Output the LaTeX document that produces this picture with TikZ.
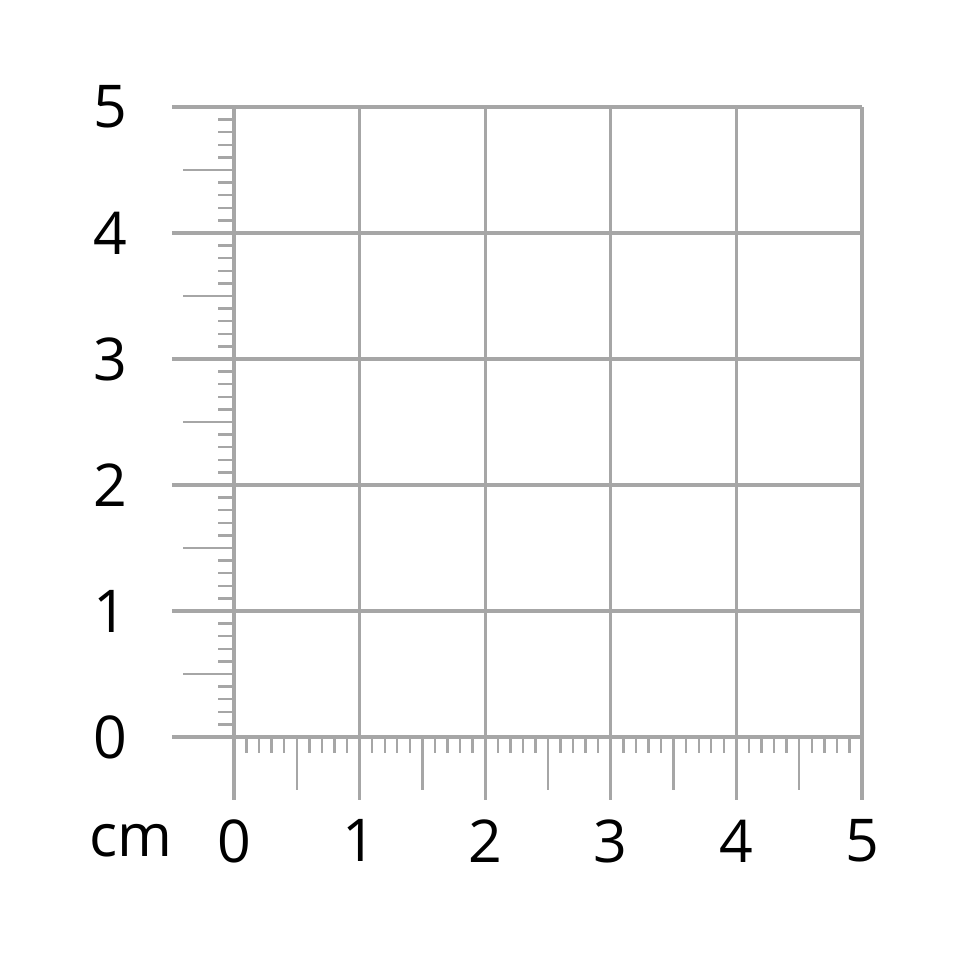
\documentclass[tikz,border=0pt]{standalone}
\usepackage{fontspec}
\setmainfont{Open Sans}
\tikzset{
  gridline/.style={draw=gray!70, line width=1.6pt},
  tickline/.style={draw=gray!70, line width=1.2pt},
  numlabel/.style={font=\fontsize{29.5}{34}\selectfont, inner sep=0pt},
}
\begin{document}
\begin{tikzpicture}[x=62.8pt,y=63pt]
\useasboundingbox (-1.863,-1.714) rectangle (5.852,5.849);
% minor ticks y axis
\foreach \j in {0,...,49}{
  \pgfmathtruncatemacro{\m}{mod(\j,10)}
  \ifnum\m=0\else\ifnum\m=5
    \draw[tickline] (0,\j/10) -- (-0.406,\j/10);
  \else
    \draw[tickline] (0,\j/10) -- (-0.127,\j/10);
  \fi\fi
}
% minor ticks x axis
\foreach \i in {0,...,49}{
  \pgfmathtruncatemacro{\m}{mod(\i,10)}
  \ifnum\m=0\else\ifnum\m=5
    \draw[tickline] (\i/10,0) -- (\i/10,-0.42);
  \else
    \draw[tickline] (\i/10,0) -- (\i/10,-0.127);
  \fi\fi
}
% grid
\foreach \i in {0,...,5}{
  \draw[gridline] (\i,-0.5) -- (\i,5);
  \draw[gridline] (-0.494,\i) -- (5,\i);
}
% labels
\foreach \i in {0,...,5}{
  \node[numlabel, anchor=east] (yl\i) at (-0.844,\i) {\i};
  \node[numlabel] (xl\i) at (\i,-0.825) {\i};
}
\node[numlabel] (unit) at (-0.82,-0.825) {cm};
\end{tikzpicture}
\end{document}
